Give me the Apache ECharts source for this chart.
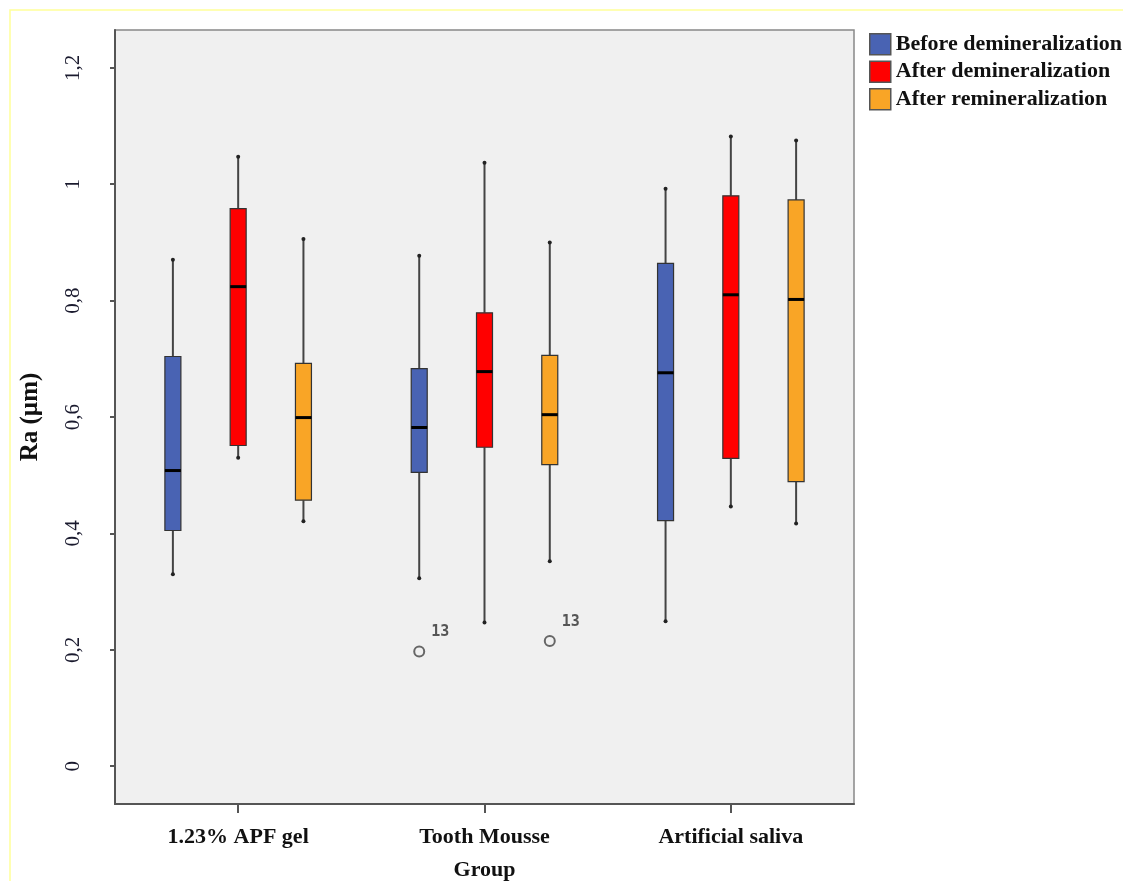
<!DOCTYPE html>
<html>
<head>
<meta charset="utf-8">
<title>Ra by group</title>
<script src="https://cdn.jsdelivr.net/npm/echarts@6/dist/echarts.min.js"></script>
<style>
    html, body { margin: 0; padding: 0; background: #fff; }
    #box-chart { width: 1123px; height: 881px; }
</style>
</head>
<body>
<div id="box-chart"></div>
<script>
    "use strict";

    // values: [min, Q1, median, Q3, max]
    var categories = ['1.23% APF gel', 'Tooth Mousse', 'Artificial saliva'];
    var seriesNames = ['Before demineralization', 'After demineralization', 'After remineralization'];
    var beforeDemin = [
        [0.330, 0.405, 0.508, 0.704, 0.870],
        [0.323, 0.505, 0.582, 0.683, 0.877],
        [0.249, 0.422, 0.676, 0.864, 0.992]
    ];
    var afterDemin = [
        [0.530, 0.551, 0.824, 0.958, 1.047],
        [0.247, 0.548, 0.678, 0.779, 1.037],
        [0.446, 0.529, 0.810, 0.980, 1.082]
    ];
    var afterRemin = [
        [0.421, 0.457, 0.599, 0.692, 0.906],
        [0.352, 0.518, 0.604, 0.706, 0.900],
        [0.417, 0.489, 0.802, 0.973, 1.075]
    ];
    // outliers: [category index, value, case number]
    var beforeOutliers = [[1, 0.197, 13]];
    var reminOutliers = [[1, 0.215, 13]];
    var yTicks = [0, 0.2, 0.4, 0.6, 0.8, 1, 1.2];
    var colors = ['#4963b3', '#ff0000', '#f9a526'];

    var boxStep = 0.265;   // distance between neighbouring boxes, as part of a band
    var boxHalf = 8;
    var serif = '"Liberation Serif", "Times New Roman", serif';

    function withIndex(rows) {
        return rows.map(function (r, i) { return [i].concat(r); });
    }

    function boxRenderer(slot) {
        return function (params, api) {
            var cat = api.value(0);
            var dx = slot * boxStep * api.size([1, 0])[0];
            var lo = api.coord([cat, api.value(1)]);
            var q1 = api.coord([cat, api.value(2)]);
            var md = api.coord([cat, api.value(3)]);
            var q3 = api.coord([cat, api.value(4)]);
            var hi = api.coord([cat, api.value(5)]);
            var x = lo[0] + dx;
            var whisker = {stroke: '#444', lineWidth: 2};
            return {
                type: 'group',
                children: [
                    {type: 'line', shape: {x1: x, y1: hi[1], x2: x, y2: q3[1]}, style: whisker},
                    {type: 'line', shape: {x1: x, y1: q1[1], x2: x, y2: lo[1]}, style: whisker},
                    {type: 'circle', shape: {cx: x, cy: hi[1], r: 2}, style: {fill: '#222'}},
                    {type: 'circle', shape: {cx: x, cy: lo[1], r: 2}, style: {fill: '#222'}},
                    {
                        type: 'rect',
                        shape: {x: x - boxHalf, y: q3[1], width: boxHalf * 2, height: q1[1] - q3[1]},
                        style: {fill: api.visual('color'), stroke: '#333', lineWidth: 1.2}
                    },
                    {type: 'line', shape: {x1: x - boxHalf, y1: md[1], x2: x + boxHalf, y2: md[1]}, style: {stroke: '#000', lineWidth: 3}}
                ]
            };
        };
    }

    function outlierRenderer(slot) {
        return function (params, api) {
            var cat = api.value(0);
            var dx = slot * boxStep * api.size([1, 0])[0];
            var p = api.coord([cat, api.value(1)]);
            var x = p[0] + dx;
            return {
                type: 'group',
                children: [
                    {type: 'circle', shape: {cx: x, cy: p[1], r: 5}, style: {fill: 'none', stroke: '#666', lineWidth: 2}},
                    {
                        type: 'text',
                        style: {
                            text: String(api.value(2)), x: x + 12, y: p[1] - 19,
                            align: 'left', verticalAlign: 'middle',
                            font: 'bold 15px "DejaVu Sans Mono", monospace', fill: '#555'
                        }
                    }
                ]
            };
        };
    }

    var boxSeries = [beforeDemin, afterDemin, afterRemin].map(function (rows, i) {
        return {
            name: seriesNames[i],
            type: 'custom',
            itemStyle: {color: colors[i]},
            renderItem: boxRenderer(i - 1),
            encode: {x: 0, y: [1, 2, 3, 4, 5]},
            data: withIndex(rows),
            z: 3
        };
    });

    var outlierSeries = [
        {name: 'outlier-before', type: 'custom', renderItem: outlierRenderer(-1), encode: {x: 0, y: 1}, data: beforeOutliers, z: 3},
        {name: 'outlier-remin', type: 'custom', renderItem: outlierRenderer(1), encode: {x: 0, y: 1}, data: reminOutliers, z: 3}
    ];

    var chart = echarts.init(document.getElementById('box-chart'));
    chart.setOption({
        animation: false,
        backgroundColor: '#fff',
        graphic: [{
            type: 'rect',
            shape: {x: 10, y: 10, width: 1120, height: 880},
            style: {fill: 'none', stroke: '#ffff99', lineWidth: 1.5},
            silent: true
        }],
        legend: {
            data: seriesNames,
            orient: 'vertical',
            left: 864,
            top: 28,
            icon: 'rect',
            itemWidth: 21,
            itemHeight: 21,
            itemGap: 5,
            itemStyle: {borderColor: '#555', borderWidth: 1.5},
            textStyle: {fontFamily: serif, fontWeight: 'bold', fontSize: 22, color: '#111', padding: [0, 0, 0, 0]}
        },
        grid: {
            left: 115,
            right: 269,
            top: 30,
            bottom: 77,
            outerBoundsMode: 'none',
            containLabel: false,
            show: true,
            backgroundColor: '#f0f0f0',
            borderColor: '#888',
            borderWidth: 1.5
        },
        xAxis: {
            type: 'category',
            data: categories,
            boundaryGap: true,
            name: 'Group',
            nameLocation: 'middle',
            nameGap: 55,
            nameTextStyle: {fontFamily: serif, fontWeight: 'bold', fontSize: 22, color: '#111'},
            axisLine: {show: true, onZero: false, lineStyle: {color: '#555', width: 2}},
            axisTick: {show: true, alignWithLabel: true, length: 9, lineStyle: {color: '#555', width: 2}},
            axisLabel: {margin: 22, fontFamily: serif, fontWeight: 'bold', fontSize: 22, color: '#111'},
            splitLine: {show: false}
        },
        yAxis: {
            type: 'value',
            min: -0.065,
            max: 1.265,
            name: 'Ra (µm)',
            nameLocation: 'middle',
            nameGap: 72,
            nameTextStyle: {fontFamily: serif, fontWeight: 'bold', fontSize: 25, color: '#111'},
            axisLine: {show: true, lineStyle: {color: '#555', width: 2}},
            axisTick: {show: true, length: 5, customValues: yTicks, lineStyle: {color: '#555', width: 2}},
            axisLabel: {
                customValues: yTicks,
                rotate: 90,
                margin: 31,
                fontFamily: serif,
                fontSize: 21,
                color: '#1a1a2e',
                formatter: function (v) { return String(v).replace('.', ','); }
            },
            splitLine: {show: false}
        },
        series: boxSeries.concat(outlierSeries)
    });

    window.onresize = function () {
        chart.resize();
    };
</script>
</body>
</html>
